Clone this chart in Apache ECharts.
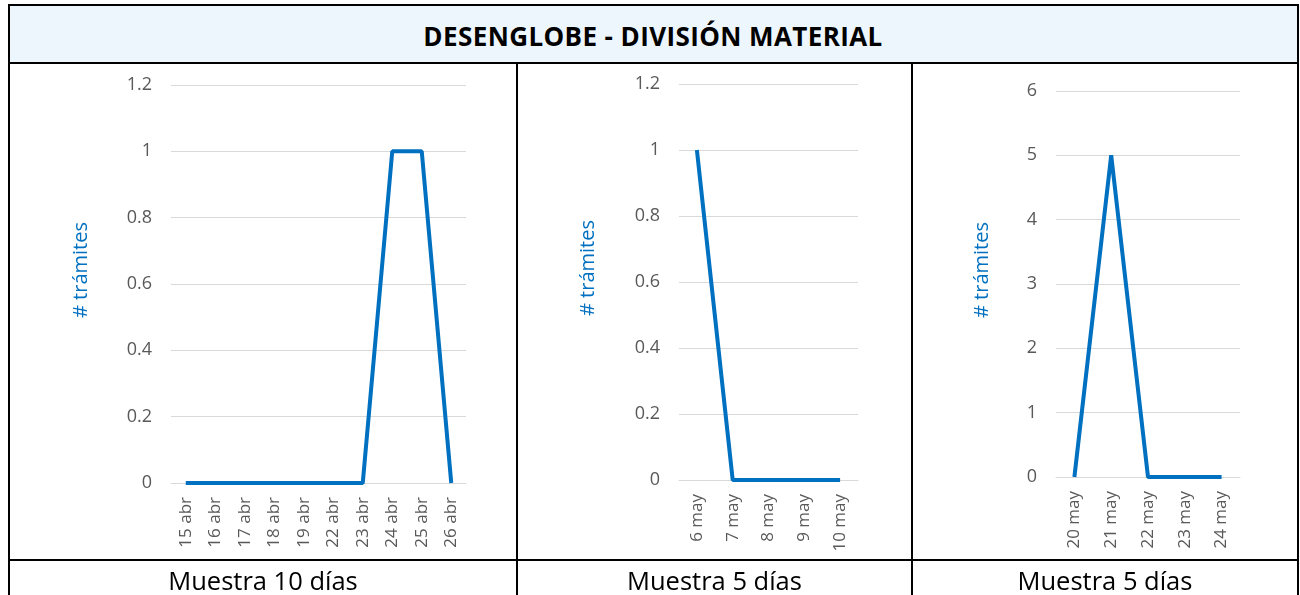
<!DOCTYPE html>
<html>
<head>
<meta charset="utf-8">
<script src="https://cdn.jsdelivr.net/npm/echarts@6/dist/echarts.min.js"></script>
<style>
  html, body { margin: 0; padding: 0; background: #fff; }
  #page { position: relative; width: 1300px; height: 595px; overflow: hidden; font-family: "Open Sans", "Noto Sans", sans-serif; }
  .ln { position: absolute; background: #000; }
  #head { position: absolute; left: 9px; top: 6px; width: 1288px; height: 56px; background: #eef6fd;
          font-weight: bold; font-size: 26px; line-height: 61px; letter-spacing: 0.4px; text-align: center; color: #000; }
  .foot { position: absolute; top: 562px; height: 33px; line-height: 37px; font-size: 25.5px; text-align: center; color: #000; }
  #chart { position: absolute; left: 0; top: 0; width: 1300px; height: 595px; }
</style>
</head>
<body>
<div id="page">
  <div id="head">DESENGLOBE - DIVISIÓN MATERIAL</div>
  <div id="chart"></div>
  <!-- marco de la tabla -->
  <div class="ln" style="left:8px;top:4px;width:1291px;height:2px"></div>
  <div class="ln" style="left:8px;top:4px;width:2px;height:600px"></div>
  <div class="ln" style="left:1297px;top:4px;width:2px;height:600px"></div>
  <div class="ln" style="left:8px;top:62px;width:1291px;height:2px"></div>
  <div class="ln" style="left:8px;top:559px;width:1291px;height:2px"></div>
  <div class="ln" style="left:516px;top:62px;width:2px;height:540px"></div>
  <div class="ln" style="left:911px;top:62px;width:2px;height:540px"></div>
  <div class="foot" style="left:10px;width:506px">Muestra 10 días</div>
  <div class="foot" style="left:518px;width:393px">Muestra 5 días</div>
  <div class="foot" style="left:913px;width:384px">Muestra 5 días</div>
</div>
<script>
var dias1 = ['15 abr','16 abr','17 abr','18 abr','19 abr','22 abr','23 abr','24 abr','25 abr','26 abr'];
var tramites1 = [0, 0, 0, 0, 0, 0, 0, 1, 1, 0];

var dias2 = ['6 may','7 may','8 may','9 may','10 may'];
var tramites2 = [1, 0, 0, 0, 0];

var dias3 = ['20 may','21 may','22 may','23 may','24 may'];
var tramites3 = [0, 5, 0, 0, 0];

var azul = '#0070c0';
var gris = '#595959';
var fuente = '"Open Sans", "Noto Sans", sans-serif';

function eje_x(idx, dias) {
  return {
    type: 'category', gridIndex: idx, data: dias, boundaryGap: true,
    axisLine: { show: true, lineStyle: { color: '#d9d9d9' } },
    axisTick: { show: false },
    axisLabel: { rotate: 90, interval: 0, color: gris, fontSize: 17, fontFamily: fuente, margin: 14 }
  };
}

function eje_y(idx, max, interval, gap, fmt) {
  return {
    type: 'value', gridIndex: idx, min: 0, max: max, interval: interval,
    name: '# trámites', nameLocation: 'middle', nameRotate: 90, nameGap: gap,
    nameTextStyle: { color: azul, fontSize: 20, fontFamily: fuente, padding: [0, 0, 0, 28] },
    axisLine: { show: false }, axisTick: { show: false },
    axisLabel: { color: gris, fontSize: 18, fontFamily: fuente, margin: 19, formatter: fmt },
    splitLine: { lineStyle: { color: '#d9d9d9' } }
  };
}

function serie(idx, datos) {
  return {
    type: 'line', xAxisIndex: idx, yAxisIndex: idx, data: datos,
    symbol: 'none', lineStyle: { color: azul, width: 4 }, itemStyle: { color: azul }
  };
}

var fmtDec = function (v) { return String(Math.round(v * 10) / 10); };

var chart = echarts.init(document.getElementById('chart'));
chart.setOption({
  animation: false,
  grid: [
    { left: 171, top: 85, width: 295, height: 398 },
    { left: 679, top: 84, width: 179, height: 396 },
    { left: 1056, top: 91, width: 184, height: 386 }
  ],
  xAxis: [eje_x(0, dias1), eje_x(1, dias2), eje_x(2, dias3)],
  yAxis: [
    eje_y(0, 1.2, 0.2, 80, fmtDec),
    eje_y(1, 1.2, 0.2, 81, fmtDec),
    eje_y(2, 6, 1, 64, fmtDec)
  ],
  series: [serie(0, tramites1), serie(1, tramites2), serie(2, tramites3)]
});
</script>
</body>
</html>
